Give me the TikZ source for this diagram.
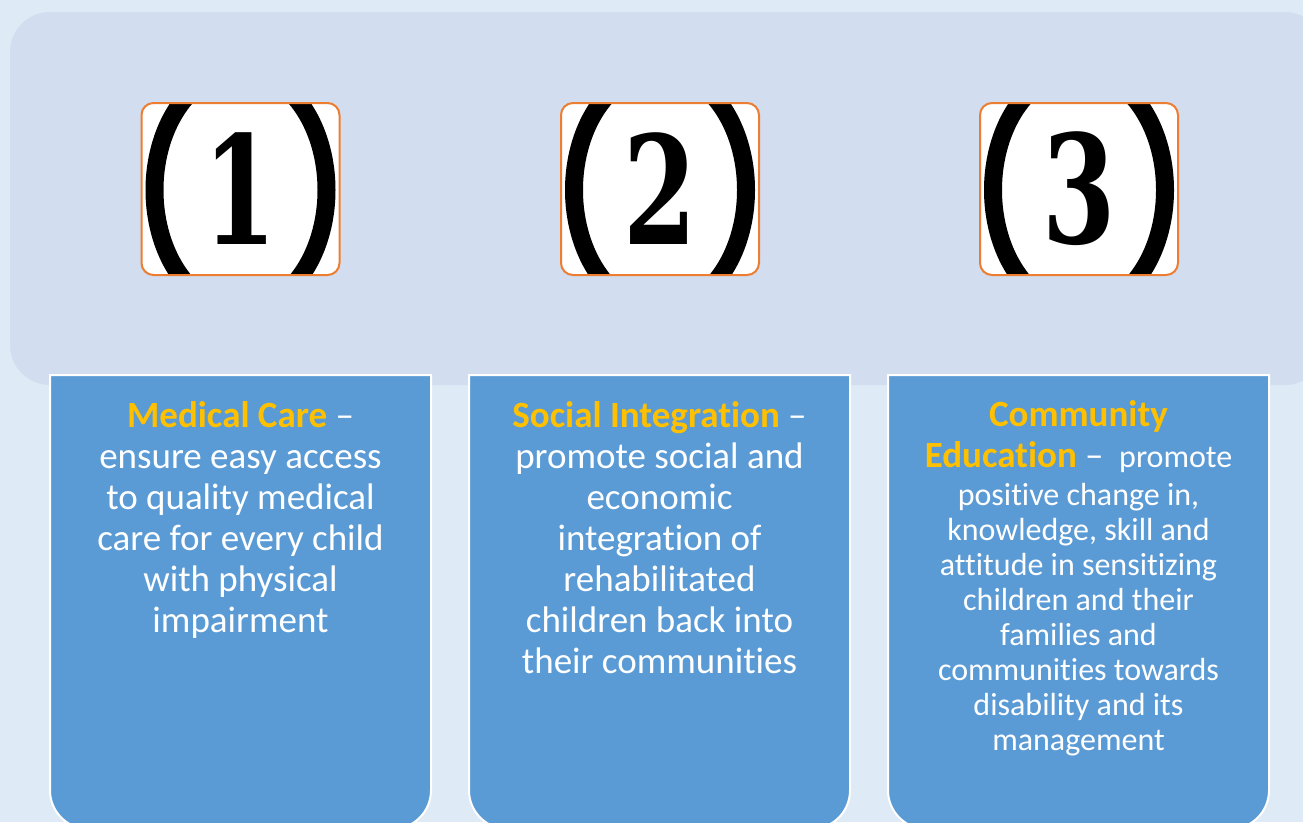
\documentclass[tikz,border=0pt]{standalone}
\usepackage{fontspec}
\setmainfont{Carlito}[Ligatures=CommonOff]
\newfontfamily\digitfont{DejaVu Serif}
\usepackage{tikz}
\usetikzlibrary{positioning}

\definecolor{BgBlue}{HTML}{DEEAF6}
\definecolor{PanelBlue}{HTML}{D2DEEF}
\definecolor{PillarBlue}{HTML}{5B9BD5}
\definecolor{NumOrange}{HTML}{ED7D31}
\definecolor{TitleGold}{HTML}{FFC000}

\newcommand{\gold}[1]{\textcolor{TitleGold}{\bfseries #1}}

\tikzset{
	numframe/.style={draw=NumOrange, line width=1.5pt, rounded corners=9pt},
	paren/.style={line width=13.5pt},
	digit/.style={inner sep=0pt, xscale=0.7, transform shape, font={\digitfont\bfseries\fontsize{113}{113}\selectfont}},
	pillar/.style={fill=PillarBlue, draw=white, line width=1.5pt},
	pillartext/.style={anchor=north, inner sep=0pt, align=center, text=white, font={\fontsize{27.75}{30.75}\selectfont}},
	smalltext/.style={pillartext, font={\fontsize{24}{26.25}\selectfont}}
}

\begin{document}
\begin{tikzpicture}[x=0.75pt,y=-0.75pt]

	%Background and panel
	\fill[BgBlue] (0,0) rectangle (1303,822);
	\useasboundingbox (0,0) rectangle (1303,822);
	\fill[PanelBlue, rounded corners=30pt] (10,12) rectangle (1325,385);

	%Numbers
	\foreach \n/\cx in {1/240.5, 2/660, 3/1079} {
		\begin{scope}
			\clip[rounded corners=9pt] (\cx-99,103) rectangle (\cx+99,275);
			\fill[white] (\cx-99,103) rectangle (\cx+99,275);
			\draw[paren] (\cx,190) ellipse [x radius=64.5pt, y radius=90pt];
			\node[digit] (Num\n) at (\cx,189) {\n};
		\end{scope}
		\draw[numframe] (\cx-99,103) rectangle (\cx+99,275);
	}

	%Pillars
	\foreach \cx in {240.5, 659.5, 1078.5} {
		\draw[pillar] (\cx-190.5,375) -- (\cx-190.5,700) [rounded corners=29pt] -- (\cx-190.5,829)
			-- (\cx+190.5,829) -- (\cx+190.5,700) [sharp corners] -- (\cx+190.5,375) -- cycle;
	}

	%Texts
	\node[pillartext] (Care) at (240.5,401) {\gold{Medical Care} --\\ensure easy access\\to quality medical\\care for every child\\with physical\\impairment};
	\node[pillartext] (Integ) at (659.5,401) {\gold{Social Integration} --\\promote social and\\economic\\integration of\\rehabilitated\\children back into\\their communities};
	\node[pillartext] (Edu) at (1078.5,400) {\gold{Community}\\\gold{Education} -- {\fontsize{24}{26.25}\selectfont\ promote}};
	\node[smalltext] (EduBody) at (1078.5,483) {positive change in,\\knowledge, skill and\\attitude in sensitizing\\children and their\\families and\\communities towards\\disability and its\\management};

\end{tikzpicture}
\end{document}
